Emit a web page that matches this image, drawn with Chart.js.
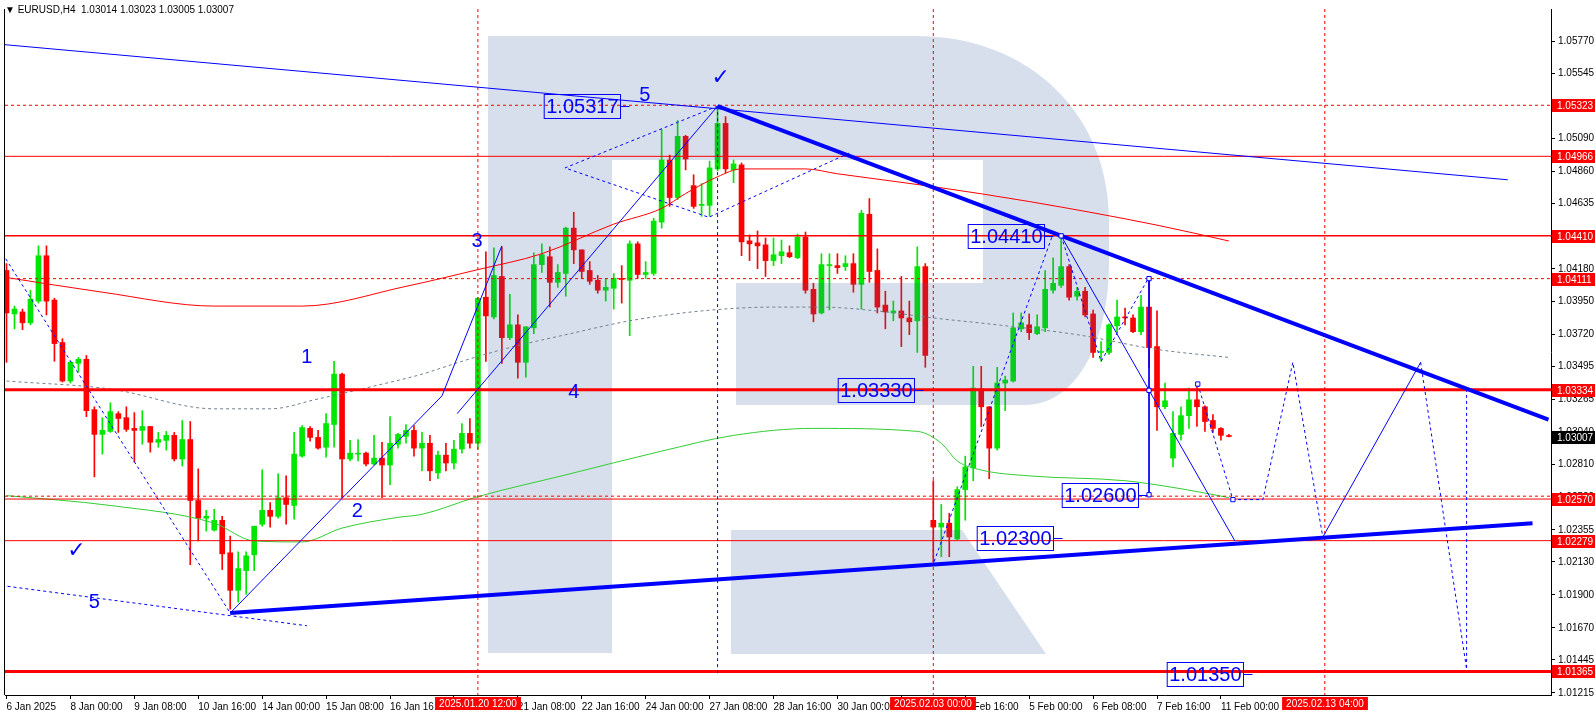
<!DOCTYPE html>
<html>
<head>
<meta charset="utf-8">
<script src="https://cdn.jsdelivr.net/npm/chart.js@4.4.1/dist/chart.umd.min.js"></script>
<style>
  html, body { margin: 0; padding: 0; background: #fff; overflow: hidden; }
  canvas { display: block; }
</style>
</head>
<body>
<canvas id="chart" width="1596" height="716"></canvas>
<script>
// EURUSD H4, bar 0 = 6 Jan 16:00, bar 153 = 11 Feb 04:00
const open = [1.04168,1.03864,1.03878,1.03802,1.03954,1.04271,1.03961,1.03664,1.03395,1.03519,
  1.03547,1.03195,1.03022,1.03043,1.03167,1.03139,1.03064,1.03050,1.03077,1.02967,
  1.02980,1.03015,1.02850,1.02986,1.02560,1.02436,1.02353,1.02421,1.02194,1.01932,
  1.02070,1.02180,1.02394,1.02491,1.02449,1.02579,1.02525,1.02870,1.03064,1.03001,
  1.02932,1.03091,1.03443,1.02850,1.02884,1.02891,1.02815,1.02856,1.02808,1.02953,
  1.03008,1.03050,1.02926,1.02960,1.02753,1.02877,1.02822,1.02919,1.03029,1.02960,
  1.03981,1.03843,1.04126,1.03698,1.03788,1.03526,1.03767,1.04209,1.04264,1.04085,
  1.04147,1.04464,1.04312,1.04168,1.04099,1.04030,1.04043,1.04112,1.04099,1.04354,
  1.04140,1.04147,1.04506,1.04940,1.04678,1.05106,1.04761,1.04623,1.04623,1.04878,
  1.05196,1.04871,1.04906,1.04375,1.04361,1.04347,1.04237,1.04271,1.04292,1.04257,
  1.04402,1.04036,1.03871,1.04202,1.04202,1.04195,1.04216,1.04071,1.04561,1.04168,
  1.03926,1.03871,1.03885,1.03836,1.03816,1.04195,1.02421,1.02374,1.02401,1.02291,
  1.02636,1.02788,1.03340,1.03215,1.02926,1.03381,1.03395,1.03760,1.03788,1.03726,
  1.03767,1.04030,1.04064,1.04195,1.03988,1.04023,1.03864,1.03595,1.03595,1.03781,
  1.03843,1.03836,1.03740,1.03912,1.03636,1.03215,1.02856,1.03022,1.03153,1.03264,
  1.03215,1.03119,1.03064,1.03014];
const high = [1.04216,1.03919,1.03898,1.04030,1.04340,1.04340,1.03974,1.03691,1.03533,1.03560,
  1.03574,1.03215,1.03139,1.03243,1.03181,1.03215,1.03174,1.03188,1.03077,1.03036,
  1.03043,1.03036,1.03119,1.03112,1.02781,1.02491,1.02498,1.02449,1.02311,1.02201,
  1.02201,1.02380,1.02774,1.02546,1.02746,1.02732,1.03036,1.03084,1.03077,1.03050,
  1.03167,1.03533,1.03450,1.02980,1.02986,1.02898,1.03015,1.02967,1.03146,1.03029,
  1.03091,1.03084,1.03036,1.03015,1.02905,1.02960,1.02980,1.03098,1.03133,1.03981,
  1.04299,1.04326,1.04333,1.04002,1.03857,1.03774,1.04292,1.04354,1.04333,1.04209,
  1.04471,1.04575,1.04312,1.04230,1.04133,1.04112,1.04147,1.04202,1.04375,1.04368,
  1.04230,1.04533,1.05154,1.04975,1.05216,1.05113,1.04837,1.04775,1.04933,1.05317,
  1.05244,1.04940,1.04920,1.04416,1.04444,1.04395,1.04395,1.04381,1.04340,1.04423,
  1.04437,1.04078,1.04285,1.04285,1.04285,1.04271,1.04285,1.04589,1.04671,1.04319,
  1.04023,1.03954,1.04126,1.03954,1.04333,1.04216,1.02698,1.02532,1.02470,1.02656,
  1.02870,1.03498,1.03498,1.03215,1.03491,1.03429,1.03871,1.03871,1.03864,1.03857,
  1.04168,1.04257,1.04410,1.04209,1.04050,1.04050,1.03891,1.03671,1.03795,1.03961,
  1.03905,1.03857,1.03995,1.04111,1.03885,1.03381,1.03181,1.03215,1.03346,1.03381,
  1.03222,1.03160,1.03070,1.03023];
const low = [1.03526,1.03760,1.03754,1.03788,1.03940,1.03857,1.03533,1.03388,1.03381,1.03457,
  1.03146,1.02725,1.02884,1.03036,1.03036,1.03043,1.02829,1.02953,1.02898,1.02932,
  1.02912,1.02836,1.02801,1.02111,1.02277,1.02346,1.02346,1.02077,1.01800,1.01849,
  1.01904,1.02070,1.02380,1.02374,1.02436,1.02394,1.02429,1.02863,1.02974,1.02919,
  1.02863,1.02932,1.02580,1.02836,1.02836,1.02801,1.02808,1.02579,1.02670,1.02926,
  1.02960,1.02870,1.02767,1.02698,1.02712,1.02767,1.02781,1.02891,1.02926,1.02919,
  1.03533,1.03829,1.03519,1.03685,1.03415,1.03422,1.03726,1.04154,1.03912,1.04050,
  1.03988,1.04216,1.04112,1.04071,1.04009,1.03954,1.03898,1.03940,1.03712,1.04112,
  1.04112,1.04133,1.04464,1.04616,1.04664,1.04871,1.04602,1.04547,1.04547,1.04864,
  1.04851,1.04782,1.04271,1.04237,1.04181,1.04126,1.04202,1.04216,1.04257,1.04250,
  1.04009,1.03809,1.03864,1.03892,1.04147,1.04168,1.04016,1.03898,1.04085,1.03871,
  1.03760,1.03816,1.03636,1.03719,1.03595,1.03491,1.02132,1.02167,1.02167,1.02284,
  1.02422,1.02698,1.03077,1.02712,1.02912,1.03188,1.03388,1.03740,1.03685,1.03719,
  1.03740,1.04009,1.04050,1.03961,1.03961,1.03843,1.03560,1.03533,1.03581,1.03740,
  1.03788,1.03733,1.03719,1.03491,1.03050,1.03201,1.02794,1.02981,1.03064,1.03077,
  1.03043,1.03036,1.02981,1.03005];
const close = [1.03871,1.03898,1.03802,1.03967,1.04271,1.03954,1.03657,1.03395,1.03526,1.03547,
  1.03188,1.03022,1.03050,1.03181,1.03133,1.03057,1.03050,1.03077,1.02967,1.02986,
  1.03015,1.02850,1.02986,1.02560,1.02436,1.02449,1.02421,1.02187,1.01932,1.02084,
  1.02173,1.02380,1.02491,1.02449,1.02579,1.02532,1.02884,1.03070,1.03001,1.02926,
  1.03098,1.03443,1.02850,1.02891,1.02891,1.02815,1.02856,1.02808,1.02960,1.03022,
  1.03050,1.02926,1.02960,1.02767,1.02877,1.02822,1.02919,1.03029,1.02960,1.03974,
  1.03850,1.04133,1.03698,1.03788,1.03526,1.03774,1.04209,1.04278,1.04085,1.04154,
  1.04464,1.04312,1.04161,1.04092,1.04030,1.04050,1.04112,1.04105,1.04354,1.04140,
  1.04154,1.04513,1.04940,1.04678,1.05106,1.04947,1.04616,1.04630,1.04885,1.05196,
  1.04878,1.04913,1.04368,1.04354,1.04340,1.04237,1.04278,1.04299,1.04264,1.04402,
  1.04030,1.03864,1.04209,1.04209,1.04188,1.04216,1.04071,1.04568,1.04161,1.03912,
  1.03878,1.03885,1.03836,1.03809,1.04195,1.03574,1.02374,1.02401,1.02305,1.02636,
  1.02794,1.03346,1.03215,1.02926,1.03381,1.03402,1.03767,1.03802,1.03733,1.03774,
  1.04036,1.04078,1.04195,1.03981,1.04023,1.03857,1.03595,1.03602,1.03788,1.03843,
  1.03836,1.03740,1.03912,1.03629,1.03215,1.03257,1.03029,1.03153,1.03264,1.03215,
  1.03112,1.03064,1.03015,1.03007];

// moving averages read at a few bars each
const maRed = [[0,1.04119],[12,1.04016],[26,1.03919],[37,1.03919],[50,1.04057],[59,1.04174],[67,1.04285],
  [76,1.04492],[82,1.04602],[85,1.04706],[89,1.04823],[92,1.04878],[100,1.04878],[104,1.04844],
  [116,1.04754],[128,1.04650],[144,1.04485],[153,1.04374]];
const maGrey = [[0,1.03395],[13,1.03339],[26,1.03201],[33,1.03201],[39,1.03270],[46,1.03360],[52,1.03443],
  [57,1.03533],[63,1.03629],[70,1.03719],[78,1.03816],[87,1.03885],[96,1.03912],[102,1.03912],
  [109,1.03885],[116,1.03836],[124,1.03788],[134,1.03719],[144,1.03616],[153,1.03560]];
const maGreen = [[0,1.02594],[13,1.02525],[26,1.02401],[31,1.02277],[37,1.02270],[42,1.02367],[49,1.02442],
  [52,1.02463],[59,1.02587],[70,1.02739],[82,1.02905],[91,1.03015],[101,1.03064],[114,1.03043],
  [117,1.02960],[119,1.02836],[122,1.02773],[128,1.02732],[140,1.02698],[147,1.02642],[153,1.02580]];

// horizontal levels
const levelsSolid = [1.04966, 1.04410, 1.03334, 1.02570, 1.02279, 1.01365];
const levelsSolidWidth = [1, 1.5, 3, 1, 1, 3];
const levelsDashed = [1.05323, 1.04111, 1.02590];
const redVerticalBars = [59, 116, 165];

// drawn blue lines [bar, price]
const blueThin = [
  [[-0.5,1.05748],[187.9,1.04802]],
  [[28,1.01773],[54.5,1.03291],[62,1.04340]],
  [[56.4,1.03167],[89,1.05317]],
  [[132,1.04410],[153.75,1.02277]],
  [[164.75,1.02304],[177,1.03526]],
  [[143,1.04111],[143,1.02600]]
];
const blueThick = [
  [[89,1.05317],[193,1.03126]],
  [[28,1.01773],[191,1.02401]]
];
const blueDashed = [
  [[-0.5,1.04285],[28,1.01773]],
  [[0.125,1.01960],[37.6,1.01684]],
  [[89,1.05317],[69.9,1.04885],[87.9,1.04540],[105.75,1.04996]],
  [[116.1,1.02132],[130.9,1.04410]],
  [[132,1.04410],[137,1.03533],[142.9,1.04111]],
  [[149.1,1.03374],[153.5,1.02566],[157.25,1.02566],[161,1.03526],[164.75,1.02304]],
  [[177,1.03526],[182.75,1.01380]],
  [[182.75,1.03340],[182.75,1.01380]],
  [[89,1.05317],[89,1.01350]]
];
const handles = [[143,1.04111],[143,1.03330],[143,1.02600],[132,1.04410],[149.1,1.03374],[153.5,1.02566]];

// text objects
const priceLabels = [
  { text: '1.05317', bar: 76.75, price: 1.05317 },
  { text: '1.04410', bar: 129.9, price: 1.04410 },
  { text: '1.03330', bar: 113.6, price: 1.03330 },
  { text: '1.02600', bar: 141.6, price: 1.02600 },
  { text: '1.02300', bar: 131.0, price: 1.02300 },
  { text: '1.01350', bar: 154.75, price: 1.01350 }
];
const waveLabels = [
  { text: '5', bar: 11, price: 1.01849 },
  { text: '1', bar: 37.6, price: 1.03560 },
  { text: '2', bar: 43.9, price: 1.02484 },
  { text: '3', bar: 58.9, price: 1.04374 },
  { text: '4', bar: 71, price: 1.03312 },
  { text: '5', bar: 79.9, price: 1.05389 }
];
const checkMarks = [[8.75, 1.02208], [89.4, 1.05513]];

// axes
const xTickBars = [0,8,16,24,32,40,48,56,64,72,80,88,96,104,112,120,128,136,144,152];
const xTickLabels = ['6 Jan 2025','8 Jan 00:00','9 Jan 08:00','10 Jan 16:00','14 Jan 00:00','15 Jan 08:00',
  '16 Jan 16:00','20 Jan 00:00','21 Jan 08:00','22 Jan 16:00','24 Jan 00:00','27 Jan 08:00','28 Jan 16:00',
  '30 Jan 00:00','31 Jan 08:00','3 Feb 16:00','5 Feb 00:00','6 Feb 08:00','7 Feb 16:00','11 Feb 00:00'];
const yTickLabels = ['1.05770','1.05545','1.05320','1.05090','1.04860','1.04635','1.04410','1.04180','1.03950',
  '1.03720','1.03495','1.03265','1.03040','1.02810','1.02580','1.02355','1.02130','1.01900','1.01670','1.01445','1.01215'];
const redBadges = ['1.05323','1.04966','1.04410','1.04111','1.03334','1.02570','1.02279','1.01365'];
const lastPrice = '1.03007';
const timeBadges = ['2025.01.20 12:00','2025.02.03 00:00','2025.02.13 04:00'];
const title = '\u25BC EURUSD,H4  1.03014 1.03023 1.03005 1.03007';

const X_MIN = -0.1875, X_MAX = 193.3125;
const Y_MIN = 1.01200, Y_MAX = 1.05996;
const UP = '#00e600', DOWN = '#ff0000', BLUE = '#0000ff';
const FONT = '"Liberation Sans", Arial, sans-serif';

const idx = open.map((_, i) => i);
const candleColor = ctx => close[ctx.dataIndex] >= open[ctx.dataIndex] ? UP : DOWN;
const pts = arr => arr.map(p => ({ x: p[0], y: p[1] }));

function lineDs(data, color, width, dash, order, extra) {
  return Object.assign({
    type: 'line', data: data, borderColor: color, borderWidth: width, borderDash: dash || [],
    pointRadius: 0, fill: false, tension: 0, order: order
  }, extra || {});
}

const datasets = [
  { type: 'bar', data: idx.map(i => ({ x: i, y: [low[i], high[i]] })), backgroundColor: candleColor,
    barThickness: 1, grouped: false, minBarLength: 1, order: 100 },
  { type: 'bar', data: idx.map(i => ({ x: i, y: [open[i], close[i]] })), backgroundColor: candleColor,
    barThickness: 5, grouped: false, minBarLength: 1, order: 99, watermarkAfter: true },
  lineDs(pts(maRed), '#ff0000', 1, null, 95, { cubicInterpolationMode: 'monotone' }),
  lineDs(pts(maGrey), '#708090', 1, [3, 3], 94, { cubicInterpolationMode: 'monotone' }),
  lineDs(pts(maGreen), '#32cd32', 1, null, 93, { cubicInterpolationMode: 'monotone' })
];
levelsSolid.forEach((v, k) => datasets.push(lineDs([{ x: X_MIN, y: v }, { x: X_MAX, y: v }], '#ff0000', levelsSolidWidth[k], null, 50)));
levelsDashed.forEach(v => datasets.push(lineDs([{ x: X_MIN, y: v }, { x: X_MAX, y: v }], '#ff0000', 1, [3, 3], 51)));
redVerticalBars.forEach(b => datasets.push(lineDs([{ x: b, y: Y_MAX }, { x: b, y: Y_MIN }], '#ff0000', 1, [3, 3], 51)));
blueThin.forEach(s => datasets.push(lineDs(pts(s), BLUE, 1, null, 40)));
blueThick.forEach(s => datasets.push(lineDs(pts(s), BLUE, 4, null, 39)));
blueDashed.forEach(s => datasets.push(lineDs(pts(s), BLUE, 1, [3, 3], 41)));
datasets.push({ type: 'scatter', data: pts(handles), pointStyle: 'rect', pointRadius: 3, borderColor: BLUE,
  borderWidth: 1, backgroundColor: '#fff', order: 30 });

function drawWatermark(chart) {
  const c = chart.ctx, a = chart.chartArea;
  c.save();
  c.beginPath(); c.rect(a.left, a.top, a.right - a.left, a.bottom - a.top); c.clip();
  c.fillStyle = 'rgba(50,95,155,0.2)';
  c.beginPath();
  c.moveTo(488, 36); c.lineTo(916, 36);
  c.bezierCurveTo(1030, 36, 1109, 115, 1109, 220);
  c.lineTo(1109, 262);
  c.bezierCurveTo(1109, 345, 1075, 405, 1025, 405);
  c.lineTo(736, 405); c.lineTo(736, 283); c.lineTo(983, 283); c.lineTo(983, 160);
  c.lineTo(612, 160); c.lineTo(612, 653); c.lineTo(488, 653); c.closePath();
  c.moveTo(731, 530); c.lineTo(962, 530); c.lineTo(1046, 654); c.lineTo(731, 654); c.closePath();
  c.fill();
  c.restore();
}

const mt4Plugin = {
  id: 'mt4',
  afterDatasetDraw(chart, args) {
    if (chart.data.datasets[args.index].watermarkAfter) drawWatermark(chart);
  },
  afterDatasetsDraw(chart) {
    const c = chart.ctx, xs = chart.scales.x, ys = chart.scales.y;
    c.save();
    c.font = '20px ' + FONT;
    c.textBaseline = 'middle';
    priceLabels.forEach(l => {
      const xr = Math.round(xs.getPixelForValue(l.bar)) + 0.5;
      const y = Math.round(ys.getPixelForValue(l.price)) + 0.5;
      const w = c.measureText(l.text).width + 4;
      c.strokeStyle = BLUE; c.lineWidth = 1;
      c.strokeRect(xr - w, y - 12, w, 24);
      c.beginPath(); c.moveTo(xr, y); c.lineTo(xr + 9, y); c.stroke();
      c.fillStyle = BLUE; c.textAlign = 'left';
      c.fillText(l.text, xr - w + 2, y + 1);
    });
    c.textAlign = 'center';
    waveLabels.forEach(l => {
      c.fillStyle = BLUE;
      c.fillText(l.text, xs.getPixelForValue(l.bar), ys.getPixelForValue(l.price));
    });
    c.font = 'bold 22px "DejaVu Sans", sans-serif';
    checkMarks.forEach(p => c.fillText('\u2713', xs.getPixelForValue(p[0]), ys.getPixelForValue(p[1])));
    c.restore();
  },
  afterDraw(chart) {
    const c = chart.ctx, xs = chart.scales.x, ys = chart.scales.y, a = chart.chartArea;
    c.save();
    // left frame
    c.strokeStyle = '#000'; c.lineWidth = 1;
    c.beginPath(); c.moveTo(a.left - 0.5, a.top); c.lineTo(a.left - 0.5, a.bottom); c.stroke();
    c.font = '10px ' + FONT;
    c.textBaseline = 'middle'; c.textAlign = 'left';
    // price badges
    const badge = (txt, bg) => {
      const y = Math.round(ys.getPixelForValue(parseFloat(txt)));
      c.fillStyle = bg; c.fillRect(a.right + 1, y - 6, 43, 13);
      c.fillStyle = '#fff'; c.fillText(txt, a.right + 6, y + 1);
    };
    redBadges.forEach(t => badge(t, '#ff0000'));
    badge(lastPrice, '#000');
    // time badges
    c.textAlign = 'center';
    timeBadges.forEach((t, k) => {
      const x = Math.round(xs.getPixelForValue(redVerticalBars[k]));
      const w = c.measureText(t).width + 8;
      c.fillStyle = '#ff0000'; c.fillRect(x - w / 2, a.bottom + 2, w, 13);
      c.fillStyle = '#fff'; c.fillText(t, x, a.bottom + 9);
    });
    // title
    c.textAlign = 'left'; c.fillStyle = '#000';
    c.fillText(title, 5, 10);
    c.restore();
  }
};

new Chart(document.getElementById('chart'), {
  type: 'bar',
  data: { datasets: datasets },
  options: {
    responsive: false,
    animation: false,
    events: [],
    layout: { padding: { left: 3, top: 0, right: 0, bottom: 0 } },
    plugins: { legend: { display: false }, tooltip: { enabled: false } },
    scales: {
      x: {
        type: 'linear', min: X_MIN, max: X_MAX, offset: false,
        afterBuildTicks: s => { s.ticks = xTickBars.map(v => ({ value: v })); },
        afterFit: s => { s.height = 21; },
        ticks: { autoSkip: false, maxRotation: 0, align: 'start', padding: 2, color: '#000',
          font: { family: FONT, size: 10 }, callback: (v, i) => xTickLabels[i] },
        grid: { drawOnChartArea: false, offset: false, tickLength: 4, color: '#000' },
        border: { display: true, color: '#000', width: 1 }
      },
      y: {
        type: 'linear', position: 'right', min: Y_MIN, max: Y_MAX, beginAtZero: false,
        afterBuildTicks: s => { s.ticks = yTickLabels.map(v => ({ value: parseFloat(v) })); },
        afterFit: s => { s.width = 45; },
        ticks: { color: '#000', padding: 3, font: { family: FONT, size: 10 }, callback: (v, i) => yTickLabels[i] },
        grid: { drawOnChartArea: false, tickLength: 4, color: '#000' },
        border: { display: true, color: '#000', width: 1 }
      }
    }
  },
  plugins: [mt4Plugin]
});
</script>
</body>
</html>
